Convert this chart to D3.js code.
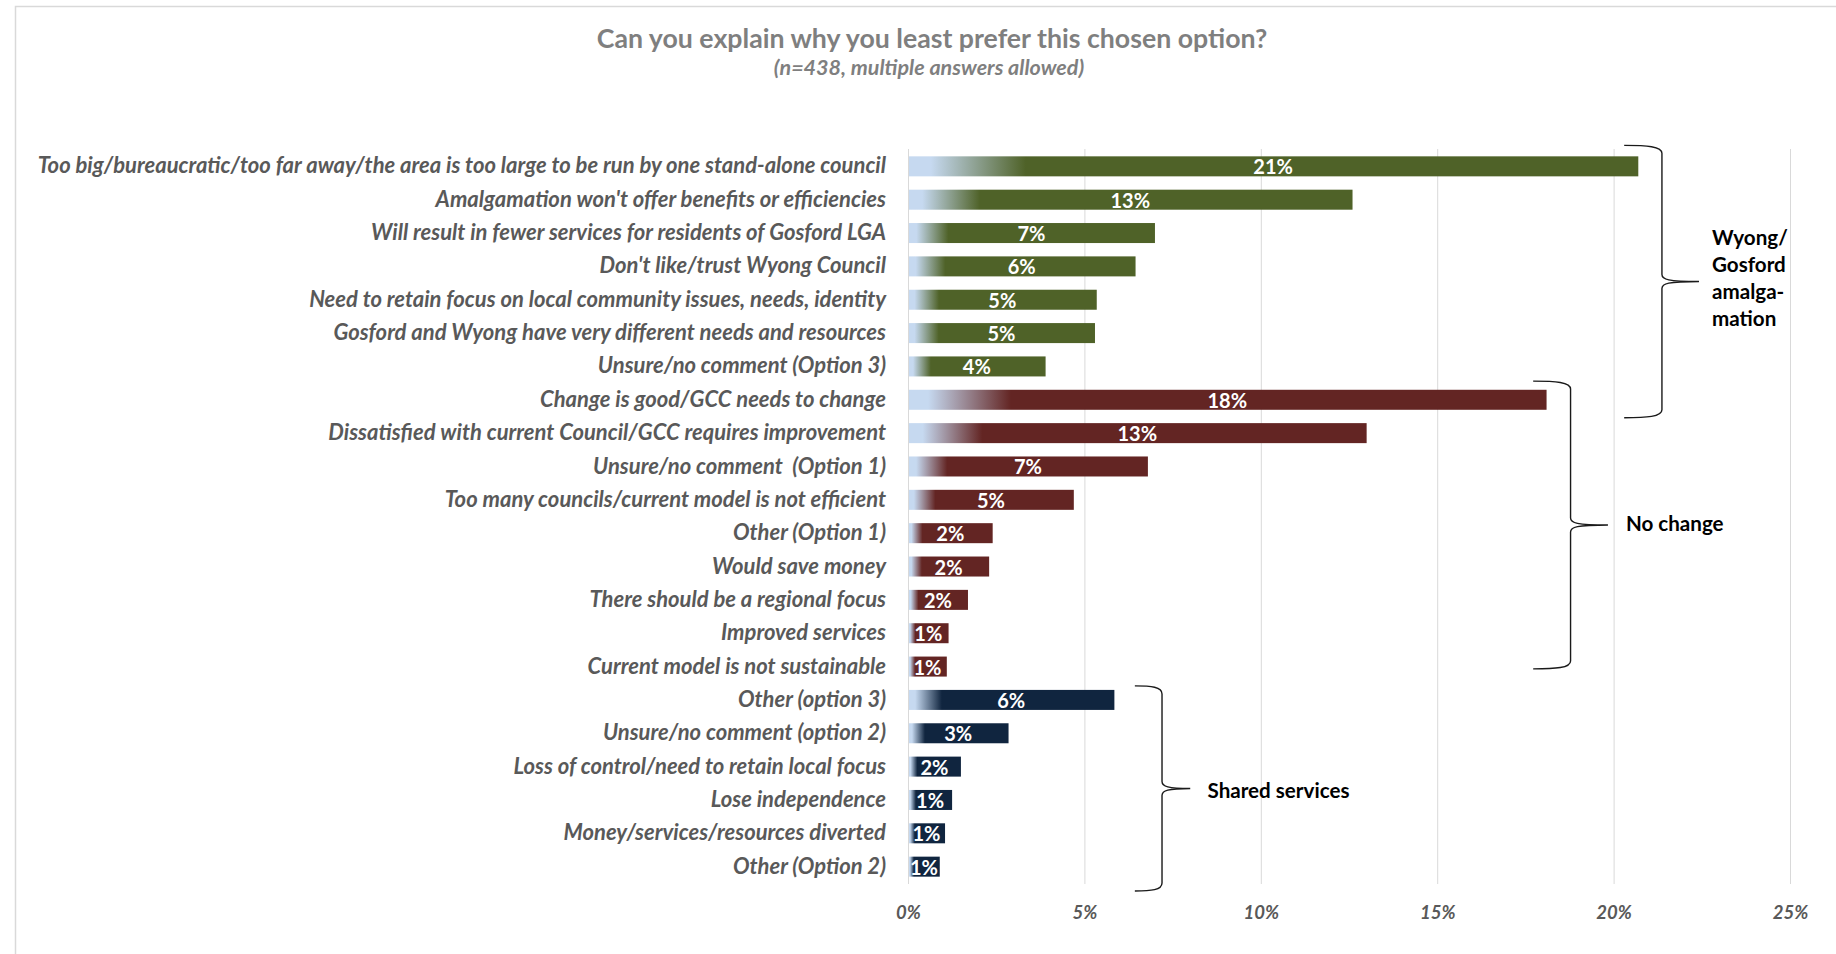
<!DOCTYPE html>
<html>
<head>
<meta charset="utf-8">
<script src="https://cdn.jsdelivr.net/npm/d3@7"></script>
<style>
  html, body { margin: 0; padding: 0; background: #fff; }
  svg { display: block; font-family: Lato, "Open Sans", sans-serif; }
  .cat { white-space: pre; }
</style>
</head>
<body>
<svg id="chart" width="1836" height="954"></svg>
<script>
// ---------- data ----------
const categories = [
  "Too big/bureaucratic/too far away/the area is too large to be run by one stand-alone council",
  "Amalgamation won't offer benefits or efficiencies",
  "Will result in fewer services for residents of Gosford LGA",
  "Don't like/trust Wyong Council",
  "Need to retain focus on local community issues, needs, identity",
  "Gosford and Wyong have very different needs and resources",
  "Unsure/no comment (Option 3)",
  "Change is good/GCC needs to change",
  "Dissatisfied with current Council/GCC requires improvement",
  "Unsure/no comment  (Option 1)",
  "Too many councils/current model is not efficient",
  "Other (Option 1)",
  "Would save money",
  "There should be a regional focus",
  "Improved services",
  "Current model is not sustainable",
  "Other (option 3)",
  "Unsure/no comment (option 2)",
  "Loss of control/need to retain local focus",
  "Lose independence",
  "Money/services/resources diverted",
  "Other (Option 2)"
];
const values = [20.7, 12.6, 7.0, 6.45, 5.35, 5.3, 3.9,
                18.1, 13.0, 6.8, 4.7, 2.4, 2.3, 1.7, 1.15, 1.1,
                5.85, 2.85, 1.5, 1.25, 1.05, 0.9];
const groupOf = ["amal","amal","amal","amal","amal","amal","amal",
                 "none","none","none","none","none","none","none","none","none",
                 "shared","shared","shared","shared","shared","shared"];
const groupNames = ["amal", "none", "shared"];
const groupLabels = [["Wyong/", "Gosford", "amalga-", "mation"], ["No change"], ["Shared services"]];
// brace spans (first row, last row) as drawn in the reference
const braceFirst = [0, 7, 16];
const braceLast  = [7, 15, 21];
const xTicks = [0, 5, 10, 15, 20, 25];
const title = "Can you explain why you least prefer this chosen option?";
const subtitle = "(n=438, multiple answers allowed)";

// ---------- styles ----------
const colors = { amal: "#4f6228", none: "#632523", shared: "#10253f" };
const fadeColor = "#c6d9f0";
const labelGrey = "#595959";

// ---------- layout ----------
const svg = d3.select("#chart");
const x = d3.scaleLinear().domain([0, 25]).range([908, 1790]);
const y = d3.scaleBand().domain(categories).range([149, 884]).paddingInner(0.4).paddingOuter(0.22);
const step = y.step();

// chart border (left + top visible)
svg.append("rect").attr("x", 15.5).attr("y", 6.5).attr("width", 2000).attr("height", 1200)
  .attr("fill", "none").attr("stroke", "#d9d9d9").attr("stroke-width", 1.5);

// title
svg.append("text").attr("x", 932).attr("y", 38).attr("text-anchor", "middle")
  .attr("dominant-baseline", "central")
  .attr("font-size", 26.7).attr("font-weight", 700).attr("fill", "#7f7f7f").text(title);
svg.append("text").attr("x", 929).attr("y", 67).attr("text-anchor", "middle")
  .attr("dominant-baseline", "central")
  .attr("font-size", 21.5).attr("font-weight", 700).attr("font-style", "italic")
  .attr("fill", "#7f7f7f").text(subtitle);

// gradients
const defs = svg.append("defs");
groupNames.forEach(g => {
  const lg = defs.append("linearGradient").attr("id", "grad-" + g)
    .attr("x1", 0).attr("x2", 1).attr("y1", 0).attr("y2", 0);
  lg.append("stop").attr("offset", 0).attr("stop-color", fadeColor);
  lg.append("stop").attr("offset", 0.03).attr("stop-color", fadeColor);
  lg.append("stop").attr("offset", 0.16).attr("stop-color", colors[g]);
  lg.append("stop").attr("offset", 1).attr("stop-color", colors[g]);
});

// gridlines
svg.append("g").selectAll("line").data(xTicks).join("line")
  .attr("x1", d => x(d) + 0.5).attr("x2", d => x(d) + 0.5)
  .attr("y1", 149).attr("y2", 884)
  .attr("stroke", "#d9d9d9").attr("stroke-width", 1);

// x axis tick labels
const xAxis = d3.axisBottom(x).tickValues(xTicks).tickFormat(d => d + "%").tickSize(0).tickPadding(0);
const gx = svg.append("g").attr("transform", "translate(0,906)").call(xAxis);
gx.select(".domain").remove();
gx.selectAll("text").attr("font-family", "Lato, sans-serif").attr("font-size", 18.5)
  .attr("font-weight", 700).attr("font-style", "italic").attr("fill", labelGrey);

// category labels
const yAxis = d3.axisLeft(y).tickSize(0).tickPadding(22);
const gy = svg.append("g").attr("transform", `translate(${x(0)},0)`).call(yAxis);
gy.select(".domain").remove();
gy.selectAll("text").attr("class", "cat").attr("font-family", "Lato, sans-serif").attr("font-size", 22)
  .attr("font-weight", 700).attr("font-style", "italic").attr("fill", labelGrey);

// bars
const rows = categories.map((c, i) => ({ c, v: values[i], g: groupOf[i] }));
svg.append("g").selectAll("rect").data(rows).join("rect")
  .attr("x", x(0) + 1).attr("y", d => y(d.c))
  .attr("width", d => x(d.v) - x(0) - 1).attr("height", y.bandwidth())
  .attr("fill", d => `url(#grad-${d.g})`);

// value labels
svg.append("g").selectAll("text").data(rows).join("text")
  .attr("x", d => (x(0) + x(d.v)) / 2).attr("y", d => y(d.c) + y.bandwidth() / 2)
  .attr("text-anchor", "middle").attr("dominant-baseline", "central")
  .attr("font-size", 20).attr("font-weight", 700).attr("fill", "#fff")
  .text(d => Math.round(d.v) + "%");

// braces
const braceX = [[20.3, 21.37, 22.42, 22.79], [17.72, 18.78, 19.84, 20.35], [6.43, 7.2, 8.0, 8.49]];
const braceTopOff = [-0.63, -0.56, -0.42];
const braceBotOff = [0.54, 0.07, 0.73];
const labelDy = [-4, -2, 1.5];
function bracePath(x0, x1, x2, t, m, b) {
  return `M${x0},${t} C${x0 + (x1 - x0) * 0.6},${t} ${x1},${t + 1} ${x1},${t + 8}` +
         ` L${x1},${m - 7} C${x1},${m - 2} ${x1 + 6},${m} ${x2},${m}` +
         ` C${x1 + 6},${m} ${x1},${m + 2} ${x1},${m + 7}` +
         ` L${x1},${b - 8} C${x1},${b - 1} ${x0 + (x1 - x0) * 0.6},${b} ${x0},${b}`;
}
groupNames.forEach((g, k) => {
  const top = y(categories[braceFirst[k]]) + y.bandwidth() / 2 + braceTopOff[k] * step;
  const bot = y(categories[braceLast[k]]) + y.bandwidth() / 2 + braceBotOff[k] * step;
  const mid = (top + bot) / 2;
  const [a, b, c, lx] = braceX[k];
  svg.append("path").attr("d", bracePath(x(a), x(b), x(c), top, mid, bot))
    .attr("fill", "none").attr("stroke", "#1a1a1a").attr("stroke-width", 1.4);
  const lines = groupLabels[k];
  const lh = 26.8;
  const t = svg.append("text").attr("font-size", 20.6).attr("font-weight", 700).attr("fill", "#000");
  lines.forEach((ln, i) => {
    t.append("tspan").attr("x", x(lx))
      .attr("y", mid + labelDy[k] + (i - (lines.length - 1) / 2) * lh)
      .attr("dominant-baseline", "central").text(ln);
  });
});
</script>
</body>
</html>
